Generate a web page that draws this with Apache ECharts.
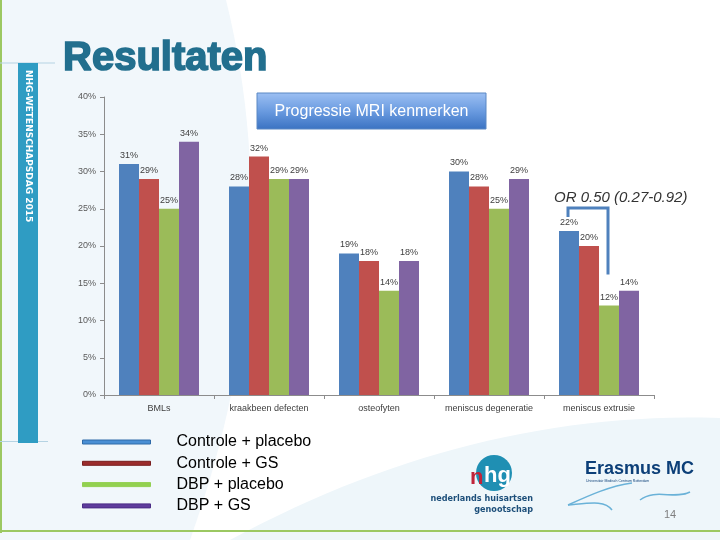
<!DOCTYPE html>
<html><head><meta charset="utf-8">
<script src="https://cdn.jsdelivr.net/npm/echarts@6/dist/echarts.min.js"></script>
<style>html,body{margin:0;padding:0;background:#fff}#c{width:720px;height:540px}</style>
</head><body><div id="c"></div>
<script>
var categories = ['BMLs', 'kraakbeen defecten', 'osteofyten', 'meniscus degeneratie', 'meniscus extrusie'];
var seriesNames = ['Controle + placebo', 'Controle + GS', 'DBP + placebo', 'DBP + GS'];
var controlePlacebo = [31, 28, 19, 30, 22];
var controleGS = [29, 32, 18, 28, 20];
var dbpPlacebo = [25, 29, 14, 25, 12];
var dbpGS = [34, 29, 18, 29, 14];
var yTicks = [0, 5, 10, 15, 20, 25, 30, 35, 40];
var barColors = ['#4F81BD', '#C0504D', '#9BBB59', '#8064A2'];
var legendColors = ['#4a8fd4', '#9b2c2c', '#92d050', '#5e3c9c'];
var legendBorders = ['#2f6aa8', '#7a1e1e', '#92d050', '#4a2c86'];

var chart = echarts.init(document.getElementById('c'), null, {renderer: 'canvas'});
var allData = [controlePlacebo, controleGS, dbpPlacebo, dbpGS];
var series = allData.map(function (d, i) {
  return {
    name: seriesNames[i], type: 'bar', data: d, barWidth: 20,
    barGap: '0%', barCategoryGap: '27%',
    itemStyle: {color: barColors[i]},
    label: {show: true, position: 'top', distance: 4, formatter: '{c}%',
      fontFamily: 'Liberation Sans', fontSize: 9, color: '#404040'}
  };
});

function curvePts(x0, y0, x1, y1, cx, cy, n) {
  var pts = [];
  for (var i = 0; i <= n; i++) {
    var t = i / n;
    pts.push([(1 - t) * (1 - t) * x0 + 2 * (1 - t) * t * cx + t * t * x1,
              (1 - t) * (1 - t) * y0 + 2 * (1 - t) * t * cy + t * t * y1]);
  }
  return pts;
}
var leftTint = [[0, 0]].concat(curvePts(226, 0, 190, 540, 290, 260, 30)).concat([[0, 540]]);
var bottomTint = curvePts(230, 540, 720, 418, 470, 410, 30).concat([[720, 540]]);

var option = {
  animation: false,
  backgroundColor: '#ffffff',
  grid: {left: 104, right: 66, top: 97, bottom: 145, containLabel: false},
  xAxis: {
    type: 'category', data: categories,
    axisLine: {lineStyle: {color: '#8c8c8c', width: 1}},
    axisTick: {show: true, interval: 0, length: 4, lineStyle: {color: '#8c8c8c'}},
    axisLabel: {fontFamily: 'Liberation Sans', fontSize: 9, color: '#404040', margin: 9, interval: 0}
  },
  yAxis: {
    type: 'value', min: 0, max: 40, interval: 5,
    axisLine: {show: true, lineStyle: {color: '#8c8c8c'}},
    axisTick: {show: true, length: 4, lineStyle: {color: '#8c8c8c'}},
    splitLine: {show: false},
    axisLabel: {fontFamily: 'Liberation Sans', fontSize: 9, color: '#595959', margin: 8,
      formatter: function (v) { return v + '%'; }}
  },
  legend: {
    orient: 'vertical', left: 82, top: 434, padding: 0, itemWidth: 68, itemHeight: 4, itemGap: 5.3,
    icon: 'rect',
    textStyle: {fontFamily: 'Liberation Sans', fontSize: 16, color: '#000', lineHeight: 16,
      padding: [0, 0, 0, 21]},
    data: seriesNames.map(function (n, i) {
      return {name: n, itemStyle: {color: legendColors[i], borderColor: legendBorders[i], borderWidth: 1}};
    })
  },
  series: series
};

var bg = [
  {type: 'polygon', silent: true, z: -10, shape: {points: leftTint}, style: {fill: '#f1f7fb'}},
  {type: 'polygon', silent: true, z: -10, shape: {points: bottomTint}, style: {fill: '#eef6fa'}},
  {type: 'rect', silent: true, z: -9, shape: {x: 0, y: 0, width: 2, height: 533}, style: {fill: '#9cc862'}},
  {type: 'rect', silent: true, z: -9, shape: {x: 0, y: 530, width: 720, height: 2}, style: {fill: '#9cc862'}},
  {type: 'rect', silent: true, z: -9, shape: {x: 0, y: 62.5, width: 55, height: 1}, style: {fill: '#b5d3e3'}},
  {type: 'rect', silent: true, z: -9, shape: {x: 0, y: 441, width: 48, height: 1}, style: {fill: '#b5d3e3'}},
  {type: 'rect', silent: true, shape: {x: 18, y: 63, width: 20, height: 380}, style: {fill: '#2f9cc3'}},
  {type: 'text', silent: true, x: 28, y: 70, rotation: -Math.PI / 2,
    style: {text: 'NHG-WETENSCHAPSDAG 2015', fill: '#ffffff', font: 'bold 9px "DejaVu Sans"',
      align: 'left', verticalAlign: 'middle'}},
  {type: 'text', silent: true, x: 63, y: 59,
    style: {text: 'Resultaten', fill: '#226f8e', stroke: '#226f8e', lineWidth: 1.6,
      font: 'bold 40px "Liberation Sans"', align: 'left', verticalAlign: 'middle'}},
  {type: 'rect', silent: true, shape: {x: 257, y: 93, width: 229, height: 36},
    style: {fill: {type: 'linear', x: 0, y: 0, x2: 0, y2: 1, colorStops: [
      {offset: 0, color: '#9dc0f3'}, {offset: 0.5, color: '#6a9be0'}, {offset: 1, color: '#3a72c2'}]},
      stroke: '#5b88c4', lineWidth: 1}},
  {type: 'text', silent: true, x: 371.5, y: 112,
    style: {text: 'Progressie MRI kenmerken', fill: '#ffffff', font: '16px "Liberation Sans"',
      align: 'center', verticalAlign: 'middle'}},
  {type: 'text', silent: true, x: 554, y: 198,
    style: {text: 'OR 0.50 (0.27-0.92)', fill: '#333333', font: 'italic 15px "Liberation Sans"',
      align: 'left', verticalAlign: 'middle'}},
  {type: 'circle', silent: true, shape: {cx: 494, cy: 473, r: 18}, style: {fill: '#1f8fb3'}},
  {type: 'text', silent: true, x: 470, y: 478,
    style: {text: 'n', fill: '#c0243a', font: 'bold 22px "Liberation Sans"', align: 'left', verticalAlign: 'middle'}},
  {type: 'text', silent: true, x: 484, y: 476,
    style: {text: 'hg', fill: '#ffffff', font: 'bold 22px "Liberation Sans"', align: 'left', verticalAlign: 'middle'}},
  {type: 'text', silent: true, x: 533, y: 499,
    style: {text: 'nederlands huisartsen', fill: '#1d4f7a', font: 'bold 9px "DejaVu Sans Condensed"', align: 'right', verticalAlign: 'middle'}},
  {type: 'text', silent: true, x: 533, y: 510,
    style: {text: 'genootschap', fill: '#1d4f7a', font: 'bold 9px "DejaVu Sans Condensed"', align: 'right', verticalAlign: 'middle'}},
  {type: 'text', silent: true, x: 585, y: 469,
    style: {text: 'Erasmus MC', fill: '#0c3f78', font: 'bold 18px "Liberation Sans"', align: 'left', verticalAlign: 'middle'}},
  {type: 'text', silent: true, x: 586, y: 481,
    style: {text: 'Universitair Medisch Centrum Rotterdam', fill: '#0c3f78', font: '3.5px "Liberation Sans"', align: 'left', verticalAlign: 'middle'}},
  {type: 'bezierCurve', silent: true, shape: {x1: 632, y1: 483, cpx1: 610, cpy1: 486, cpx2: 590, cpy2: 495, x2: 568, y2: 505},
    style: {fill: null, stroke: '#6ab2d8', lineWidth: 1.5}},
  {type: 'bezierCurve', silent: true, shape: {x1: 568, y1: 505, cpx1: 590, cpy1: 503, cpx2: 605, cpy2: 500, x2: 612, y2: 510},
    style: {fill: null, stroke: '#6ab2d8', lineWidth: 1.5}},
  {type: 'bezierCurve', silent: true, shape: {x1: 640, y1: 500, cpx1: 655, cpy1: 488, cpx2: 675, cpy2: 500, x2: 690, y2: 492},
    style: {fill: null, stroke: '#6ab2d8', lineWidth: 1.5}},
  {type: 'text', silent: true, x: 670, y: 515,
    style: {text: '14', fill: '#7f7f7f', font: '11px "Liberation Sans"', align: 'center', verticalAlign: 'middle'}}
];
option.graphic = bg;
chart.setOption(option);

var ci = 4;
var p22 = chart.convertToPixel({xAxisIndex: 0, yAxisIndex: 0}, [ci, controlePlacebo[ci]]);
var p12 = chart.convertToPixel({xAxisIndex: 0, yAxisIndex: 0}, [ci, dbpPlacebo[ci]]);
var leftX = p22[0] - 31, rightX = p12[0] + 9;
var topY = p22[1] - 23;
bg.push({type: 'polyline', silent: true,
  shape: {points: [[leftX, topY + 9], [leftX, topY], [rightX, topY], [rightX, p12[1] - 31]]},
  style: {stroke: '#4F81BD', lineWidth: 3, fill: null}});
chart.setOption({graphic: bg});
</script></body></html>
